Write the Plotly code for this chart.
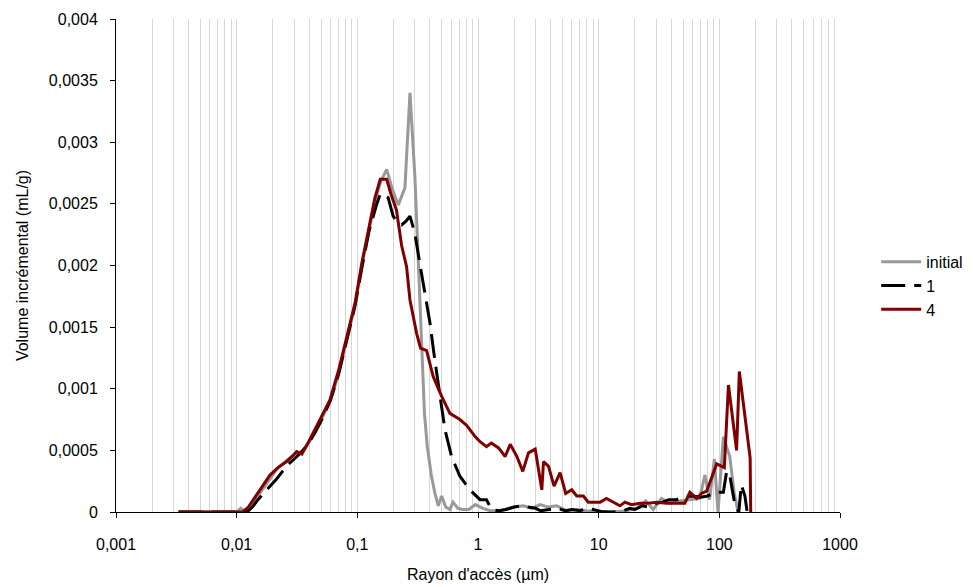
import plotly.graph_objects as go

# ---- data ----
x_initial = [0.0033, 0.005, 0.008, 0.010, 0.0108, 0.0115, 0.0125, 0.0135, 0.015, 0.017, 0.019, 0.0215,
             0.0245, 0.0275, 0.030, 0.033, 0.037, 0.042, 0.049, 0.0593, 0.070, 0.084, 0.096, 0.109,
             0.125, 0.140, 0.156, 0.175, 0.195, 0.218, 0.248, 0.273, 0.300, 0.320, 0.341, 0.360,
             0.380, 0.410, 0.440, 0.468, 0.500, 0.540, 0.585, 0.620, 0.680, 0.740, 0.840, 0.950,
             1.10, 1.26, 1.53, 1.97, 2.38, 2.79, 3.27, 3.84, 4.50, 5.44, 6.58, 7.90, 10.3, 13.2,
             17.0, 20.6, 24.6, 28.3, 33.1, 38.9, 47.0, 56.9, 68.7, 76.0, 83.0, 91.0, 97.5, 108.0,
             122.0, 133.0, 143.0]
v_initial = [0, 0, 0, 0, 0.00003, 0.00001, 0.00002, 0.00006, 0.00013, 0.00020, 0.00027, 0.00035,
             0.00040, 0.00044, 0.00047, 0.00048, 0.00052, 0.00060, 0.00073, 0.00089, 0.00112, 0.00145,
             0.00168, 0.00200, 0.00230, 0.00252, 0.00268, 0.00278, 0.00262, 0.00249, 0.00263, 0.00340,
             0.00272, 0.00207, 0.00131, 0.00080, 0.00053, 0.00030, 0.00015, 0.00005, 0.00013, 0.00004,
             0.00002, 0.00008, 0.00003, 0.00002, 0.00002, 0.00006, 0.00003, 0.00001, 0.00001, 0.00004,
             0.00005, 0.00003, 0.00006, 0.00004, 0.00005, 0.00001, 0.00002, 0.00001, 0.000005, 0.000003,
             0.00001, 0.00003, 0.00009, 0.00002, 0.00011, 0.00007, 0.00009, 0.00010, 0.00011, 0.00030,
             0.00010, 0.00043, 0.0, 0.00061, 0.00045, 0.00015, 0.0]

x_1 = [0.0033, 0.005, 0.008, 0.0115, 0.0125, 0.0135, 0.015, 0.017, 0.0191, 0.0215, 0.024, 0.027,
       0.030, 0.034, 0.039, 0.045, 0.052, 0.060, 0.070, 0.084, 0.096, 0.109, 0.125, 0.145, 0.155,
       0.165, 0.180, 0.198, 0.215, 0.233, 0.253, 0.273, 0.300, 0.325, 0.351, 0.399, 0.439, 0.483,
       0.532, 0.604, 0.708, 0.857, 1.04, 1.175, 1.30, 1.50, 1.70, 2.00, 2.30, 2.60, 3.00, 3.30,
       3.80, 4.50, 5.30, 6.00, 7.00, 8.00, 9.00, 10.5, 12.0, 14.0, 16.0, 18.0, 20.0, 23.0, 26.0,
       30.0, 34.0, 38.0, 44.0, 50.0, 60.0, 70.0, 80.0, 93.0, 108.0, 115.0, 122.0, 135.0, 145.0,
       152.0, 163.0, 170.0]
v_1 = [0, 0, 0, 0, 0.00001, 0.00004, 0.00010, 0.00016, 0.00021, 0.00027, 0.00033, 0.00039,
       0.00043, 0.00048, 0.00055, 0.00065, 0.00077, 0.00091, 0.00112, 0.00145, 0.00168, 0.00198,
       0.00228, 0.00250, 0.00258, 0.00258, 0.00255, 0.00240, 0.00235, 0.00233, 0.00236, 0.00240,
       0.00226, 0.00205, 0.00186, 0.00154, 0.00123, 0.00094, 0.00067, 0.00045, 0.00029, 0.00018,
       0.00010, 0.00010, 0.00002, 0.00001, 0.00002, 0.00004, 0.00005, 0.00004, 0.00003, 0.00001,
       0.00002, 0.00003, 0.00001, 0.00002, 0.00001, 0.00003, 0.00002, 0.000005, 0.0, 0.0, 0.00001,
       0.00003, 0.00002, 0.00005, 0.00004, 0.00007, 0.00008, 0.00010, 0.00010, 0.00012, 0.00013,
       0.00012, 0.00013, 0.00016, 0.00016, 0.00033, 0.00030, 0.00005, 0.0, 0.00022, 0.00013, 0.0]

x_4 = [0.0033, 0.004, 0.005, 0.0065, 0.008, 0.010, 0.0112, 0.0125, 0.0145, 0.0165, 0.0189, 0.022,
       0.026, 0.0295, 0.0314, 0.0347, 0.040, 0.049, 0.0593, 0.070, 0.084, 0.096, 0.109, 0.125,
       0.140, 0.155, 0.175, 0.190, 0.211, 0.233, 0.256, 0.273, 0.310, 0.334, 0.375, 0.425, 0.499,
       0.585, 0.708, 0.810, 0.950, 1.04, 1.175, 1.29, 1.48, 1.68, 1.85, 2.10, 2.35, 2.62, 2.98,
       3.38, 3.49, 3.84, 4.27, 4.79, 5.33, 5.98, 6.58, 7.47, 8.20, 9.00, 10.3, 11.6, 13.2, 15.0,
       16.5, 18.7, 22.0, 24.9, 30.2, 36.5, 44.1, 51.7, 57.0, 64.8, 71.0, 78.5, 88.0, 95.0, 110.0,
       119.0, 139.0, 146.5, 180.0, 182.0]
v_4 = [0, 0, 0, 0, 0, 0, 0, 0.00004, 0.00013, 0.00021, 0.00030, 0.00036, 0.00041, 0.00046,
       0.00049, 0.00047, 0.00058, 0.00075, 0.00091, 0.00115, 0.00148, 0.00170, 0.00202, 0.00230,
       0.00255, 0.00270, 0.00270, 0.00258, 0.00245, 0.00216, 0.00199, 0.00172, 0.00145, 0.00133,
       0.00131, 0.00110, 0.00094, 0.00080, 0.00075, 0.00070, 0.00061, 0.00057, 0.00053, 0.00056,
       0.00052, 0.00045, 0.00055, 0.00045, 0.00033, 0.00048, 0.00051, 0.00018, 0.00041, 0.00037,
       0.00021, 0.00032, 0.00015, 0.00018, 0.00013, 0.00013, 0.00008, 0.00008, 0.00008, 0.00011,
       0.00008, 0.00005, 0.00008, 0.00006, 0.00007, 0.00007, 0.00008, 0.00007, 0.00007, 0.00007,
       0.00016, 0.00011, 0.00015, 0.00017, 0.00030, 0.00039, 0.00036, 0.00103, 0.00050, 0.00114,
       0.00044, 0.0]

series_names = ["initial", "1", "4"]

x_tickvals = [0.001, 0.01, 0.1, 1, 10, 100, 1000]
x_ticktext = ["0,001", "0,01", "0,1", "1", "10", "100", "1000"]
y_tickvals = [0, 0.0005, 0.001, 0.0015, 0.002, 0.0025, 0.003, 0.0035, 0.004]
y_ticktext = ["0", "0,0005", "0,001", "0,0015", "0,002", "0,0025", "0,003", "0,0035", "0,004"]

x_title = "Rayon d'accès (µm)"
y_title = "Volume incrémental (mL/g)"

FONT = "Arial, Liberation Sans, sans-serif"
FS = 16

fig = go.Figure()
fig.add_trace(go.Scatter(x=x_initial, y=v_initial, mode="lines", name=series_names[0],
                         line=dict(color="#999999", width=3)))
fig.add_trace(go.Scatter(x=x_1, y=v_1, mode="lines", name=series_names[1],
                         line=dict(color="#000000", width=3, dash="24px,9px")))
fig.add_trace(go.Scatter(x=x_4, y=v_4, mode="lines", name=series_names[2],
                         line=dict(color="#800000", width=3)))

# page body has an 8px margin: figure is 965x579 placed at (8, 8)
fig.update_layout(
    width=965, height=579,
    margin=dict(l=108, r=133, t=11, b=75, autoexpand=False),
    paper_bgcolor="white", plot_bgcolor="white",
    font=dict(family=FONT, size=FS, color="#000000"),
    showlegend=True,
    legend=dict(x=1.05, y=0.542, xanchor="left", yanchor="top",
                font=dict(family=FONT, size=FS, color="#000000"),
                bgcolor="rgba(0,0,0,0)", itemwidth=40, tracegroupgap=0),
)

fig.update_xaxes(
    type="log", range=[-3, 3],
    tickvals=x_tickvals, ticktext=x_ticktext,
    ticks="outside", ticklen=5, tickcolor="#000000", tickwidth=1,
    showline=True, linecolor="#000000", linewidth=1,
    showgrid=True, gridcolor="#d6d6d6", gridwidth=1,
    minor=dict(dtick="D1", showgrid=True, gridcolor="#d6d6d6", gridwidth=1, ticks=""),
    zeroline=False,
    ticklabelstandoff=13,
    title=dict(text=x_title, font=dict(family=FONT, size=FS), standoff=16),
    automargin=False,
)
fig.update_yaxes(
    range=[0, 0.004],
    tickvals=y_tickvals, ticktext=y_ticktext,
    ticks="outside", ticklen=5, tickcolor="#000000", tickwidth=1,
    showline=True, linecolor="#000000", linewidth=1,
    showgrid=False, zeroline=False,
    ticklabelstandoff=9,
    title=dict(text=y_title, font=dict(family=FONT, size=FS), standoff=16),
    automargin=False,
)

fig.write_html("out.html")
